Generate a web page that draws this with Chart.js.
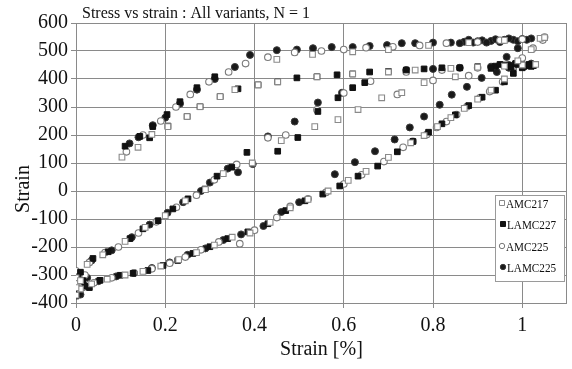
<!DOCTYPE html>
<html>
<head>
<meta charset="utf-8">
<script src="https://cdn.jsdelivr.net/npm/chart.js@4.4.1/dist/chart.umd.min.js"></script>
<style>
html,body{margin:0;padding:0;background:#fff;}
#wrap{width:572px;height:369px;position:relative;}
</style>
</head>
<body>
<div id="wrap"><canvas id="c" width="572" height="369"></canvas></div>
<script>
const chartTitle = "Stress vs strain : All variants, N = 1";
const xAxisTitle = "Strain [%]";
const yAxisTitle = "Strain";
const seriesNames = ["AMC217", "LAMC227", "AMC225", "LAMC225"];

const amc217 = [
  [0.103,121],[0.139,156],[0.17,202],[0.206,230],[0.249,266],[0.278,301],[0.323,337],[0.356,362],
  [0.408,379],[0.452,390],[0.54,408],[0.62,418],[0.70,425],[0.76,432],[0.84,438],[0.9,442],[0.96,446],[1.0,450],[1.03,452],
  [0.45,470],[0.53,488],[0.62,497],[0.70,505],[0.79,520],[0.88,530],[0.96,538],[1.04,545],
  [1.05,548],[1.02,505],[0.99,465],[0.96,400],[0.93,360],[0.90,328],[0.87,295],[0.84,262],[0.81,230],[0.78,198],[0.75,172],
  [0.70,120],[0.65,70],[0.61,38],[0.565,0],[0.52,-30],[0.48,-60],[0.435,-112],[0.39,-150],[0.35,-165],[0.31,-193],
  [0.27,-220],[0.23,-245],[0.19,-268],[0.15,-287],[0.11,-300],[0.07,-315],[0.035,-332],[0.01,-350],[0.0,-372],
  [0.0,-310],[0.025,-262],[0.06,-228],[0.11,-180],[0.155,-130],[0.2,-88],[0.245,-35],[0.29,5],[0.33,62],[0.395,100],
  [0.46,180],[0.535,230],[0.587,255],[0.632,291],[0.685,333],[0.73,351],[0.78,387],[0.85,408],
  [0.01,-320],[0.0,-345]
];
const lamc227 = [
  [0.11,160],[0.143,195],[0.172,230],[0.204,273],[0.233,319],[0.271,369],[0.311,408],
  [0.165,190],[0.206,232],[0.249,266],[0.278,301],[0.323,337],[0.363,365],[0.408,379],[0.452,390],[0.495,404],[0.54,408],
  [0.585,415],[0.62,418],[0.658,425],[0.70,427],[0.74,432],[0.78,436],[0.82,440],[0.86,440],[0.90,444],[0.94,446],
  [0.97,448],[0.99,452],[1.01,448],[1.02,445],
  [1.0,445],[0.98,420],[0.96,390],[0.94,360],[0.91,335],[0.88,305],[0.85,272],[0.82,240],[0.79,210],[0.755,177],[0.72,140],
  [0.676,89],[0.632,53],[0.591,18],[0.553,-11],[0.513,-35],[0.47,-70],[0.43,-117],[0.385,-146],[0.34,-170],[0.30,-199],
  [0.262,-223],[0.228,-248],[0.195,-266],[0.161,-284],[0.128,-294],[0.099,-301],[0.054,-319],[0.02,-340],[0.005,-360],
  [0.01,-290],[0.038,-241],[0.072,-217],[0.121,-170],[0.15,-135],[0.184,-106],[0.217,-64],[0.251,-28],[0.289,7],[0.316,53],
  [0.349,85],[0.383,138],[0.452,142],[0.497,191],[0.542,284],[0.587,333],[0.62,369],[0.647,387],
  [0.96,450],[0.975,444],[0.985,455],[1.0,440],[1.015,452],[1.025,448],[0.93,438],[0.95,452],
  [0.0,-375],[0.015,-320],[0.03,-345]
];
const amc225 = [
  [0.113,140],[0.15,200],[0.19,250],[0.224,300],[0.256,345],[0.298,390],[0.342,425],[0.38,455],
  [0.43,478],[0.49,495],[0.55,500],[0.60,505],[0.65,512],[0.71,515],[0.77,520],[0.83,528],[0.90,532],[0.95,538],[1.0,542],[1.05,550],
  [1.046,539],[1.024,510],[1.0,475],[0.98,440],[0.956,390],[0.927,355],[0.905,333],[0.876,301],[0.853,273],[0.83,248],
  [0.808,227],[0.786,202],[0.755,177],[0.733,156],[0.69,105],[0.64,58],[0.60,25],[0.56,-5],[0.52,-28],[0.48,-55],
  [0.45,-95],[0.40,-140],[0.367,-188],[0.32,-182],[0.28,-210],[0.245,-236],[0.21,-258],[0.17,-278],[0.13,-292],[0.08,-310],
  [0.04,-328],[0.015,-345],[0.0,-360],
  [0.0,-285],[0.03,-255],[0.065,-220],[0.095,-200],[0.14,-150],[0.18,-110],[0.225,-58],[0.27,-15],[0.31,40],[0.36,95],
  [0.43,190],[0.47,200],[0.54,290],[0.60,350],[0.66,392],[0.72,345],[0.80,395],[0.88,412],
  [0.74,425],[0.82,432],[0.90,440],[0.98,445],
  [0.0,-330],[0.02,-300]
];
const lamc225 = [
  [0.12,170],[0.14,192],[0.172,235],[0.20,262],[0.233,312],[0.271,362],[0.311,400],[0.356,443],[0.39,486],
  [0.45,503],[0.495,505],[0.531,510],[0.573,514],[0.62,514],[0.658,518],[0.697,521],[0.73,528],[0.76,528],[0.80,530],
  [0.84,530],[0.87,533],[0.90,535],[0.93,536],[0.96,540],[0.98,540],[1.0,543],[1.02,545],
  [0.58,60],[0.625,103],[0.67,142],[0.714,184],[0.748,227],[0.78,266],[0.815,308],[0.842,344],[0.876,372],[0.909,404],
  [0.943,425],[0.965,479],[0.99,510],
  [0.50,-40],[0.46,-75],[0.42,-125],[0.37,-155],[0.33,-175],[0.29,-205],[0.25,-228],[0.21,-255],[0.17,-275],[0.13,-293],
  [0.09,-305],[0.05,-322],[0.02,-338],[0.005,-355],
  [0.005,-300],[0.035,-248],[0.08,-212],[0.125,-165],[0.165,-120],[0.205,-78],[0.24,-40],[0.28,0],[0.30,30],[0.34,80],
  [0.363,67],[0.396,96],[0.43,195],[0.49,248],[0.542,316],[0.596,351],
  [0.74,432],[0.80,436],[0.86,440],[0.93,444],[0.97,450],[1.0,452],
  [0.86,528],[0.88,540],[0.89,530],[0.91,538],[0.92,530],[0.94,542],[0.95,532],[0.97,545],[0.99,535],[1.01,540],
  [0.97,440],[0.985,455],[1.005,445],[1.02,455],[0.0,-345],[0.01,-370],[0.025,-310]
];

const xMin = 0, xMax = 1.1, xStep = 0.2;
const yMin = -400, yMax = 600, yStep = 100;

const toPts = arr => arr.map(p => ({x: p[0], y: p[1]}));
const FONT = "'Liberation Serif','Times New Roman',serif";

const styles = [
  {pointStyle:'rect', radius:4.0, bg:'#ffffff', border:'#8a8a8a', bw:1.1},
  {pointStyle:'rect', radius:4.0, bg:'#111111', border:'#111111', bw:1},
  {pointStyle:'circle', radius:3.3, bg:'#ffffff', border:'#7a7a7a', bw:1.1},
  {pointStyle:'circle', radius:3.5, bg:'#1a1a1a', border:'#3a3a3a', bw:1}
];
const seriesData = [amc217, lamc227, amc225, lamc225];

const datasets = seriesData.map((d, i) => ({
  label: seriesNames[i],
  data: toPts(d),
  showLine: false,
  pointStyle: styles[i].pointStyle,
  pointRadius: styles[i].radius,
  pointHoverRadius: styles[i].radius,
  backgroundColor: styles[i].bg,
  borderColor: styles[i].border,
  pointBorderWidth: styles[i].bw
}));

const framePlugin = {
  id: 'frame',
  beforeDatasetsDraw(chart) {
    const a = chart.chartArea, ctx = chart.ctx;
    ctx.save();
    ctx.strokeStyle = '#8a8a8a';
    ctx.lineWidth = 1;
    ctx.strokeRect(Math.round(a.left)+0.5, Math.round(a.top)+0.5, Math.round(a.right-a.left)-1, Math.round(a.bottom-a.top));
    ctx.restore();
  },
  afterDraw(chart) {
    const ctx = chart.ctx;
    ctx.save();
    ctx.fillStyle = '#111';
    ctx.font = "16px " + FONT;
    ctx.textAlign = 'left';
    ctx.textBaseline = 'alphabetic';
    ctx.fillText(chartTitle, 82, 18);
    ctx.translate(24, 189);
    ctx.rotate(-Math.PI/2);
    ctx.font = "20px " + FONT;
    ctx.textAlign = 'center';
    ctx.textBaseline = 'middle';
    ctx.fillText(yAxisTitle, 0, 0);
    ctx.restore();

    // legend
    const L = 495, T = 195, R = 565, B = 282;
    ctx.save();
    ctx.fillStyle = '#fff';
    ctx.fillRect(L, T, R-L, B-T);
    ctx.strokeStyle = '#9a9a9a';
    ctx.lineWidth = 1;
    ctx.strokeRect(L+0.5, T+0.5, R-L-1, B-T-1);
    const rows = [205, 226, 248, 269];
    chart.data.datasets.forEach((ds, i) => {
      const st = styles[i];
      const my = rows[i] - 2;
      const mx = i % 2 === 1 ? 503 : 502;
      ctx.fillStyle = st.bg; ctx.strokeStyle = st.border; ctx.lineWidth = 1;
      ctx.beginPath();
      if (st.pointStyle === 'rect') {
        ctx.rect(mx-2.5, my-2.5, 5, 5);
      } else {
        ctx.arc(mx, my, 2.7, 0, Math.PI*2);
      }
      ctx.fill(); ctx.stroke();
      ctx.save();
      ctx.fillStyle = '#111';
      ctx.font = "13px " + FONT;
      ctx.textBaseline = 'middle';
      ctx.translate(i % 2 === 1 ? 507 : 506, rows[i]);
      ctx.scale(0.86, 1);
      ctx.fillText(ds.label, 0, 0);
      ctx.restore();
    });
    ctx.restore();
  }
};

new Chart(document.getElementById('c'), {
  type: 'scatter',
  data: { datasets },
  options: {
    responsive: false,
    animation: false,
    layout: { padding: { top: 23, right: 4, left: 0, bottom: 0 } },
    plugins: { legend: { display: false }, tooltip: { enabled: false }, title: { display: false } },
    scales: {
      x: {
        type: 'linear', min: xMin, max: xMax,
        afterFit(s) { s.height = 66; },
        ticks: { stepSize: xStep, includeBounds: false, padding: 6, color: '#111',
                 font: { family: FONT, size: 20 },
                 callback: v => String(Math.round(v*10)/10) },
        grid: { color: '#8a8a8a', lineWidth: 1, drawTicks: true, tickLength: 5, tickColor: '#8a8a8a' },
        border: { display: true, color: '#8a8a8a' },
        title: { display: true, text: xAxisTitle, color: '#111', font: { family: FONT, size: 20 }, padding: { top: 0, bottom: 7 } }
      },
      y: {
        type: 'linear', min: yMin, max: yMax,
        afterFit(s) { s.width = 76; },
        ticks: { stepSize: yStep, padding: 3, color: '#111', font: { family: FONT, size: 20 } },
        grid: { color: '#8a8a8a', lineWidth: 1, drawTicks: true, tickLength: 5, tickColor: '#8a8a8a' },
        border: { display: true, color: '#8a8a8a' }
      }
    }
  },
  plugins: [framePlugin]
});
</script>
</body>
</html>
